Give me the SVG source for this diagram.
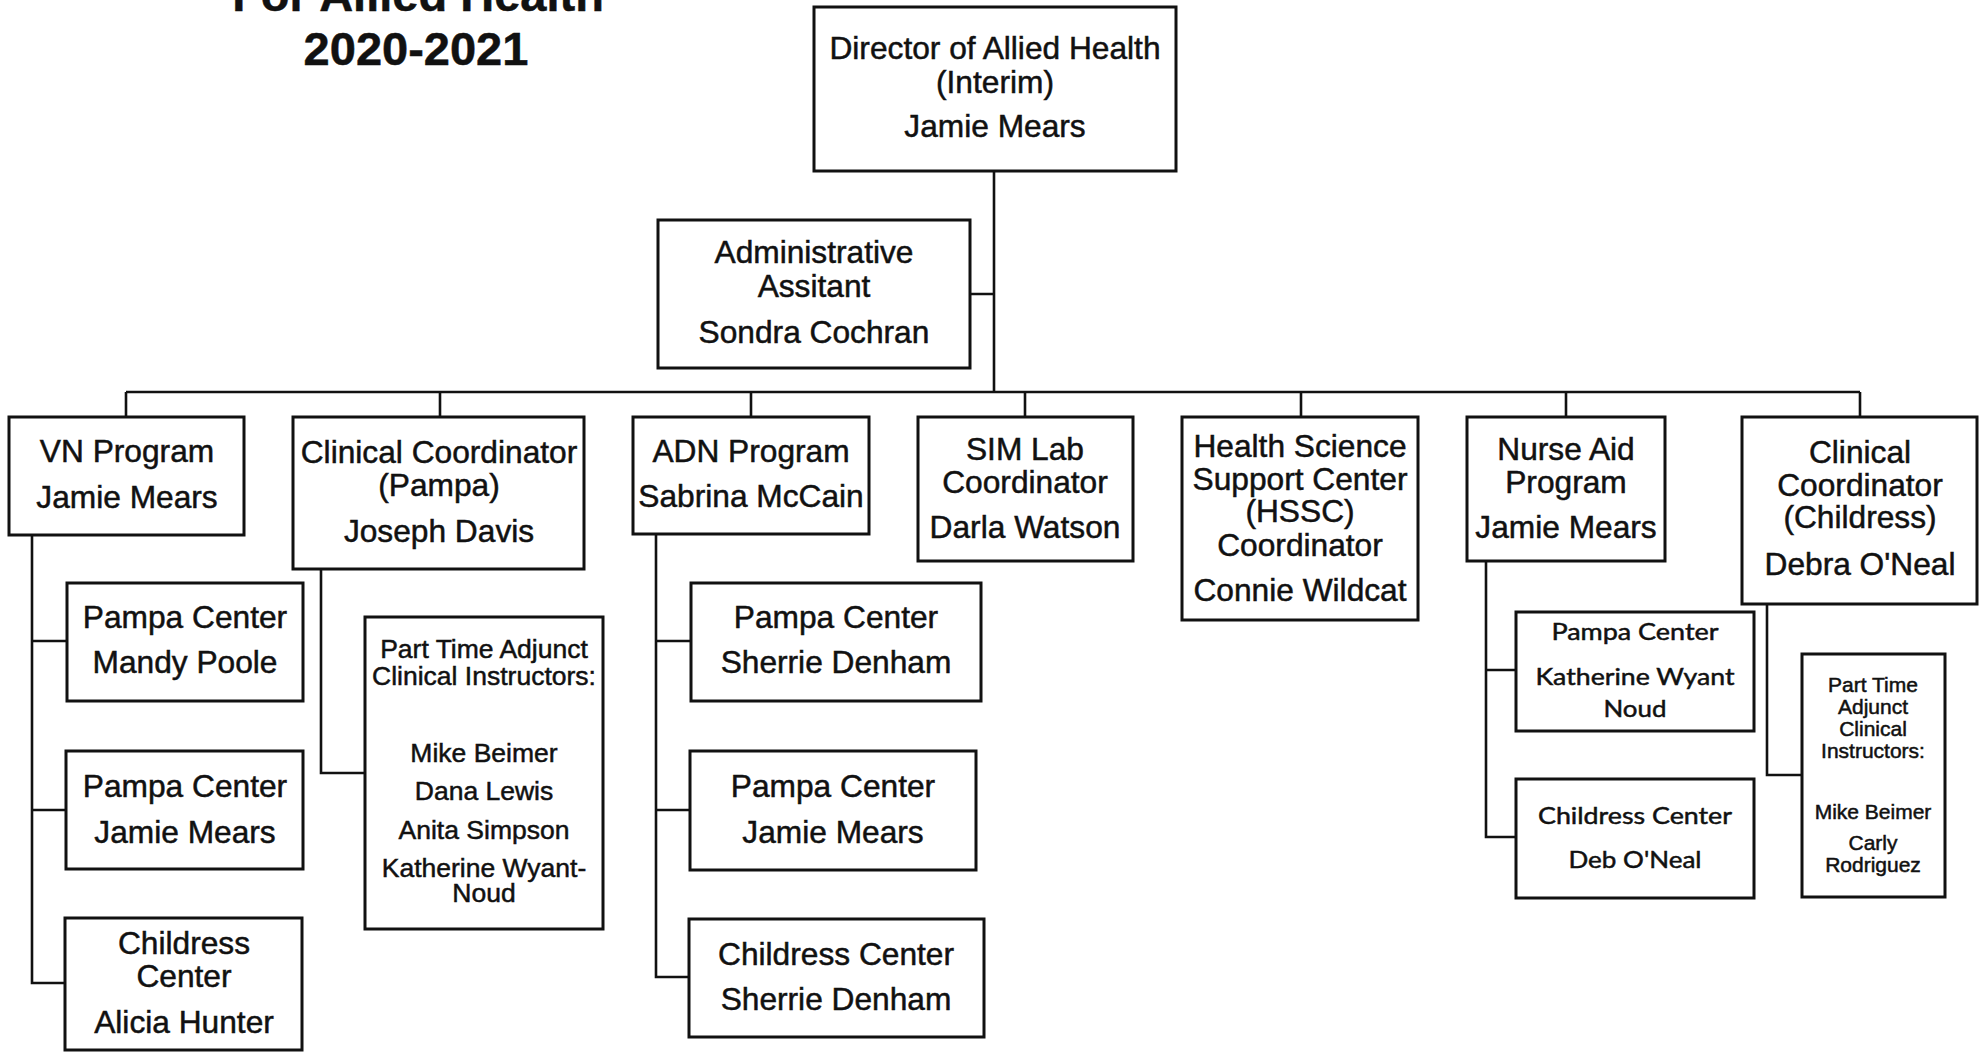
<svg xmlns="http://www.w3.org/2000/svg" width="1986" height="1054" viewBox="0 0 1986 1054">
<style>
.box{fill:#fff;stroke:#111;stroke-width:3}
.ln{fill:none;stroke:#111;stroke-width:2.6}
text{font-family:"Liberation Sans",Arial,sans-serif;fill:#111;text-anchor:middle;stroke:#111;stroke-width:0.5}
.t{font-size:31.7px}
.s{font-size:26.5px}
.xs{font-size:21px}
.c{font-family:Lato,"Open Sans",sans-serif;font-size:24px}
.title{font-size:47px;font-weight:bold}
</style>
<rect width="1986" height="1054" fill="#fff"/>
<g id="title">
<text class="title" x="418" y="11">For Allied Health</text>
<text class="title" x="416" y="65">2020-2021</text>
</g>
<g id="connectors">
<path class="ln" d="M994 171V392M970 294H994M126 392H1860M126 392V417M440 392V417M751 392V417M1025 392V417M1301 392V417M1566 392V417M1860 392V417"/>
<path class="ln" d="M32 535V983H65M32 641H67M32 810H66"/>
<path class="ln" d="M321 569V773H365"/>
<path class="ln" d="M656 534V977H689M656 641H691M656 810H690"/>
<path class="ln" d="M1486 561V837H1516M1486 670H1516"/>
<path class="ln" d="M1767 604V775H1802"/>
</g>
<g id="director">
<rect class="box" x="814" y="7" width="362" height="164"/>
<text class="t" x="995" y="59">Director of Allied Health</text>
<text class="t" x="995" y="93">(Interim)</text>
<text class="t" x="995" y="137">Jamie Mears</text>
</g>
<g id="admin">
<rect class="box" x="658" y="220" width="312" height="148"/>
<text class="t" x="814" y="263">Administrative</text>
<text class="t" x="814" y="297">Assitant</text>
<text class="t" x="814" y="343">Sondra Cochran</text>
</g>
<g id="vn">
<rect class="box" x="9" y="417" width="235" height="118"/>
<text class="t" x="127" y="462">VN Program</text>
<text class="t" x="127" y="508">Jamie Mears</text>
</g>
<g id="vn-pampa1">
<rect class="box" x="67" y="583" width="236" height="118"/>
<text class="t" x="185" y="628">Pampa Center</text>
<text class="t" x="185" y="673">Mandy Poole</text>
</g>
<g id="vn-pampa2">
<rect class="box" x="66" y="751" width="237" height="118"/>
<text class="t" x="185" y="797">Pampa Center</text>
<text class="t" x="185" y="843">Jamie Mears</text>
</g>
<g id="vn-childress">
<rect class="box" x="65" y="918" width="237" height="132"/>
<text class="t" x="184" y="954">Childress</text>
<text class="t" x="184" y="987">Center</text>
<text class="t" x="184" y="1033">Alicia Hunter</text>
</g>
<g id="cc-pampa">
<rect class="box" x="293" y="417" width="291" height="152"/>
<text class="t" x="439" y="463">Clinical Coordinator</text>
<text class="t" x="439" y="496">(Pampa)</text>
<text class="t" x="439" y="542">Joseph Davis</text>
</g>
<g id="pt-pampa">
<rect class="box" x="365" y="617" width="238" height="312"/>
<text class="s" x="484" y="658">Part Time Adjunct</text>
<text class="s" x="484" y="685">Clinical Instructors:</text>
<text class="s" x="484" y="762">Mike Beimer</text>
<text class="s" x="484" y="800">Dana Lewis</text>
<text class="s" x="484" y="839">Anita Simpson</text>
<text class="s" x="484" y="877">Katherine Wyant-</text>
<text class="s" x="484" y="902">Noud</text>
</g>
<g id="adn">
<rect class="box" x="633" y="417" width="236" height="117"/>
<text class="t" x="751" y="462">ADN Program</text>
<text class="t" x="751" y="507">Sabrina McCain</text>
</g>
<g id="adn-pampa1">
<rect class="box" x="691" y="583" width="290" height="118"/>
<text class="t" x="836" y="628">Pampa Center</text>
<text class="t" x="836" y="673">Sherrie Denham</text>
</g>
<g id="adn-pampa2">
<rect class="box" x="690" y="751" width="286" height="119"/>
<text class="t" x="833" y="797">Pampa Center</text>
<text class="t" x="833" y="843">Jamie Mears</text>
</g>
<g id="adn-childress">
<rect class="box" x="689" y="919" width="295" height="118"/>
<text class="t" x="836" y="965">Childress Center</text>
<text class="t" x="836" y="1010">Sherrie Denham</text>
</g>
<g id="sim">
<rect class="box" x="918" y="417" width="215" height="144"/>
<text class="t" x="1025" y="460">SIM Lab</text>
<text class="t" x="1025" y="493">Coordinator</text>
<text class="t" x="1025" y="538">Darla Watson</text>
</g>
<g id="hssc">
<rect class="box" x="1182" y="417" width="236" height="203"/>
<text class="t" x="1300" y="457">Health Science</text>
<text class="t" x="1300" y="490">Support Center</text>
<text class="t" x="1300" y="522">(HSSC)</text>
<text class="t" x="1300" y="556">Coordinator</text>
<text class="t" x="1300" y="601">Connie Wildcat</text>
</g>
<g id="nurse-aid">
<rect class="box" x="1467" y="417" width="198" height="144"/>
<text class="t" x="1566" y="460">Nurse Aid</text>
<text class="t" x="1566" y="493">Program</text>
<text class="t" x="1566" y="538">Jamie Mears</text>
</g>
<g id="na-pampa">
<rect class="box" x="1516" y="612" width="238" height="119"/>
<text class="c" x="1635" y="640" textLength="167" lengthAdjust="spacingAndGlyphs">Pampa Center</text>
<text class="c" x="1635" y="685" textLength="199" lengthAdjust="spacingAndGlyphs">Katherine Wyant</text>
<text class="c" x="1635" y="717" textLength="63" lengthAdjust="spacingAndGlyphs">Noud</text>
</g>
<g id="na-childress">
<rect class="box" x="1516" y="779" width="238" height="119"/>
<text class="c" x="1635" y="824" textLength="194" lengthAdjust="spacingAndGlyphs">Childress Center</text>
<text class="c" x="1635" y="868" textLength="133" lengthAdjust="spacingAndGlyphs">Deb O'Neal</text>
</g>
<g id="cc-childress">
<rect class="box" x="1742" y="417" width="235" height="187"/>
<text class="t" x="1860" y="463">Clinical</text>
<text class="t" x="1860" y="496">Coordinator</text>
<text class="t" x="1860" y="528">(Childress)</text>
<text class="t" x="1860" y="575">Debra O'Neal</text>
</g>
<g id="pt-childress">
<rect class="box" x="1802" y="654" width="143" height="243"/>
<text class="xs" x="1873" y="692">Part Time</text>
<text class="xs" x="1873" y="714">Adjunct</text>
<text class="xs" x="1873" y="736">Clinical</text>
<text class="xs" x="1873" y="758">Instructors:</text>
<text class="xs" x="1873" y="819">Mike Beimer</text>
<text class="xs" x="1873" y="850">Carly</text>
<text class="xs" x="1873" y="872">Rodriguez</text>
</g>
</svg>
